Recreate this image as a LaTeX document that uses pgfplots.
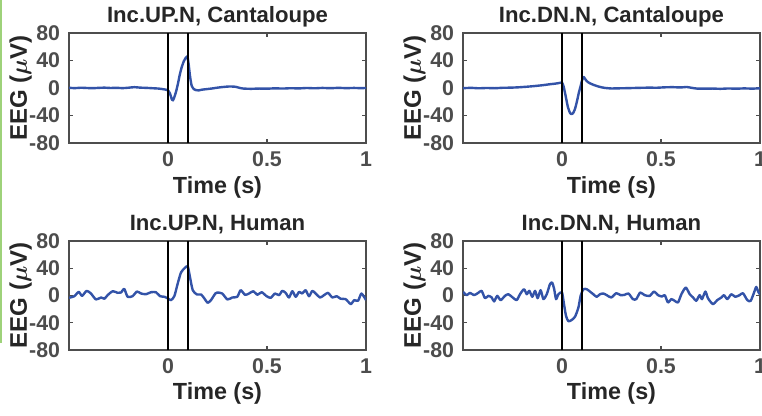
\documentclass[border=0pt]{standalone}
\usepackage{fontspec}
\setmainfont{Liberation Sans}
\usepackage{pgfplots}
\pgfplotsset{compat=1.18}

\definecolor{eegblue}{RGB}{51,83,168}
\definecolor{axgray}{RGB}{77,77,77}
\definecolor{txtdark}{RGB}{38,38,38}
\definecolor{edgegreen}{RGB}{158,210,122}

\pgfplotsset{
  every axis title shift=0pt,
  eegax/.style={
    anchor=south west,
    scale only axis,
    width=222.75pt, height=82.5pt,
    xmin=-0.5, xmax=1, ymin=-80, ymax=80,
    xtick={0,0.5,1}, xticklabels={0,0.5,1},
    ytick={-80,-40,0,40,80}, yticklabels={-80,-40,0,40,80},
    tick align=inside,
    major tick length=3pt,
    axis line style={draw=axgray, line width=1pt},
    tick style={draw=axgray, line width=0.8pt},
    ticklabel style={font=\fontsize{16}{16}\selectfont\bfseries, text=axgray, inner sep=0pt},
    xticklabel style={anchor=base, yshift=-17.8pt},
    yticklabel style={anchor=east, xshift=-6.5pt},
    title style={font=\fontsize{16.6}{16.6}\selectfont\bfseries, text=txtdark,
      at={(axis description cs:0.5,1.093)}, anchor=base, inner sep=0pt},
    xlabel style={font=\fontsize{17.5}{17.5}\selectfont\bfseries, text=txtdark,
      at={(axis description cs:0.5,-0.458)}, anchor=base, inner sep=0pt},
    ylabel style={font=\fontsize{18}{18}\selectfont\bfseries, text=txtdark,
      at={(axis description cs:-0.142,0.5)}, anchor=base, inner sep=0pt},
    xlabel={Time (s)},
    ylabel={EEG ({\boldmath$\mu$}V)},
  },
  eeg/.style={color=eegblue, line width=1.8pt, line join=round, mark=none, smooth, tension=0.4},
  stim/.style={color=black, line width=1.1pt, mark=none},
}

\begin{document}
\begin{tikzpicture}
\path[use as bounding box] (0,0) rectangle (571.5pt,-312pt);
\draw[edgegreen, line width=1.1pt] (0.8pt,0) -- (0.8pt,-257pt);

% top left
\begin{axis}[eegax, at={(51.75pt,-107.25pt)}, title={Inc.UP.N, Cantaloupe}]
\addplot[eeg] coordinates {
(-0.5,0.3)(-0.47,-0.2)(-0.44,0.4)(-0.41,0)(-0.38,-0.3)(-0.35,0.2)(-0.32,0.5)(-0.29,0)
(-0.26,0.3)(-0.23,-0.2)(-0.2,0.4)(-0.17,1.2)(-0.14,0.5)(-0.11,0.2)(-0.08,-0.3)(-0.05,-0.8)
(-0.03,-1.5)(-0.01,-2.5)(0,-3.5)(0.01,-8)(0.02,-17)(0.025,-18)(0.03,-15)(0.04,-6)
(0.05,6)(0.06,20)(0.07,31)(0.08,39)(0.09,44)(0.097,46)(0.1,43)(0.105,33)(0.11,20)
(0.115,10)(0.12,3)(0.13,-1.5)(0.14,-3)(0.155,-3.5)(0.17,-2.5)(0.19,-1.8)(0.22,-0.8)
(0.25,0.5)(0.28,1.5)(0.31,2.2)(0.34,1.8)(0.36,0.3)(0.38,-0.8)(0.42,-1.2)(0.46,-0.8)
(0.5,-1)(0.54,-0.5)(0.58,-0.8)(0.62,-0.3)(0.66,-0.6)(0.7,0)(0.74,-0.4)(0.78,0.1)
(0.82,-0.3)(0.86,0.2)(0.9,-0.2)(0.94,0.1)(0.97,-0.2)(1,0)
};
\addplot[stim] coordinates {(0,-80)(0,80)};
\addplot[stim] coordinates {(0.1,-80)(0.1,80)};
\end{axis}

% top right
\begin{axis}[eegax, at={(347.25pt,-107.25pt)}, title={Inc.DN.N, Cantaloupe}]
\addplot[eeg] coordinates {
(-0.5,-0.3)(-0.46,0.2)(-0.42,-0.4)(-0.38,0)(-0.34,-0.3)(-0.3,0.3)(-0.26,0.5)(-0.22,1)
(-0.18,1.8)(-0.14,2.8)(-0.1,4)(-0.06,5.5)(-0.03,6.5)(-0.01,7.5)(0,8)(0.005,5)(0.01,0)
(0.02,-14)(0.03,-28)(0.04,-36)(0.047,-38)(0.055,-37)(0.065,-31)(0.075,-20)(0.085,-7)
(0.095,4)(0.1,10)(0.105,14)(0.11,16)(0.115,14)(0.125,10)(0.14,7)(0.16,4.5)(0.18,2.5)
(0.2,1)(0.22,0)(0.25,-0.7)(0.28,-0.5)(0.32,-0.3)(0.36,0)(0.4,0.3)(0.44,0.5)(0.48,0.4)
(0.52,1)(0.56,1.2)(0.6,0.8)(0.63,1.5)(0.65,0.5)(0.68,-0.8)(0.72,-1)(0.76,-0.8)(0.8,-1.2)
(0.84,-0.7)(0.88,-1)(0.92,-0.6)(0.96,-0.9)(1,-0.5)
};
\addplot[stim] coordinates {(0,-80)(0,80)};
\addplot[stim] coordinates {(0.1,-80)(0.1,80)};
\end{axis}

% bottom left
\begin{axis}[eegax, at={(51.75pt,-262.5pt)}, height=81.75pt, title={Inc.UP.N, Human}]
\addplot[eeg] coordinates {
(-0.5,-3.4)(-0.473,-1)(-0.451,5.3)(-0.434,-0.5)(-0.411,6.8)(-0.389,2.9)(-0.364,-5.8)
(-0.338,-2.9)(-0.321,-4.8)(-0.305,0.5)(-0.279,6.3)(-0.254,3.9)(-0.237,4.4)(-0.221,9.7)
(-0.204,-1.9)(-0.179,-1)(-0.157,5.8)(-0.136,2.9)(-0.111,1.9)(-0.086,4.8)(-0.061,4.8)
(-0.04,-1)(-0.018,-1.9)(0,-4.4)(0.015,-6.8)(0.032,-1)(0.049,17.5)(0.066,34)(0.086,40.7)
(0.1,42.7)(0.111,27)(0.125,7.8)(0.146,1.5)(0.167,1.5)(0.184,-4.4)(0.2,-10.7)(0.217,-6.8)
(0.239,2.9)(0.249,4.4)(0.274,2.9)(0.3,-5.8)(0.325,-2.9)(0.35,-1.9)(0.367,7.8)(0.389,1)
(0.409,2.9)(0.431,6.3)(0.451,1)(0.473,4.8)(0.498,-1)(0.519,-3.4)(0.54,2.9)(0.561,0.5)
(0.577,6.8)(0.594,3.9)(0.611,-2.9)(0.628,6.3)(0.645,-1.9)(0.662,5.3)(0.678,2.9)(0.695,7.8)
(0.712,-1)(0.729,6.8)(0.746,2.9)(0.768,-2.9)(0.788,0.5)(0.808,3.9)(0.83,-2.9)(0.852,-1)
(0.872,-4.8)(0.897,-5.3)(0.923,-12.6)(0.94,-6.8)(0.96,-7.8)(0.977,2.9)(1,-6.8)
};
\addplot[stim] coordinates {(0,-80)(0,80)};
\addplot[stim] coordinates {(0.1,-80)(0.1,80)};
\end{axis}

% bottom right
\begin{axis}[eegax, at={(347.25pt,-262.5pt)}, height=81.75pt, title={Inc.DN.N, Human}]
\addplot[eeg] coordinates {
(-0.5,5.3)(-0.481,0.5)(-0.465,3.9)(-0.444,0.5)(-0.423,3.9)(-0.406,6.8)(-0.389,-3.9)
(-0.372,-0.5)(-0.355,-2.9)(-0.343,-8.7)(-0.327,-0.5)(-0.31,-6.8)(-0.288,-0.5)(-0.271,1.9)
(-0.249,-2.9)(-0.229,-6.8)(-0.212,1.9)(-0.192,9.2)(-0.178,1.9)(-0.165,6.8)(-0.15,-1.9)
(-0.136,6.8)(-0.123,-3.9)(-0.108,7.8)(-0.094,-5.3)(-0.077,1.9)(-0.061,16.5)(-0.05,19)
(-0.04,10)(-0.03,-5.3)(-0.018,1.9)(0,4.4)(0.01,-12.6)(0.02,-29.6)(0.032,-37.8)(0.049,-35.9)
(0.066,-31)(0.083,-17.5)(0.094,-0.5)(0.108,9.2)(0.125,9.2)(0.141,5.8)(0.158,1.9)(0.175,-1.9)
(0.192,1.9)(0.209,2.9)(0.226,0.5)(0.249,-2.9)(0.274,3.4)(0.296,0.5)(0.316,1)(0.336,2.9)
(0.358,-5.3)(0.375,-5.3)(0.395,4.4)(0.417,0.5)(0.443,-0.5)(0.465,5.8)(0.485,0.5)(0.505,-1.5)
(0.519,0.5)(0.535,-10.2)(0.552,-5.3)(0.569,-7.8)(0.586,-10.2)(0.603,1.9)(0.625,11.6)
(0.645,1.9)(0.662,-2.9)(0.678,-7.8)(0.695,0.5)(0.707,-5.3)(0.724,5.8)(0.737,-3.9)
(0.762,-12.6)(0.784,-6.8)(0.805,-2.9)(0.818,0.5)(0.835,-5.3)(0.855,1.9)(0.875,-1.9)
(0.897,0.5)(0.914,3.4)(0.936,-6.8)(0.953,-7.8)(0.973,6.8)(0.981,12.6)(0.993,4.4)(1,1.9)
};
\addplot[stim] coordinates {(0,-80)(0,80)};
\addplot[stim] coordinates {(0.1,-80)(0.1,80)};
\end{axis}
\end{tikzpicture}
\end{document}
